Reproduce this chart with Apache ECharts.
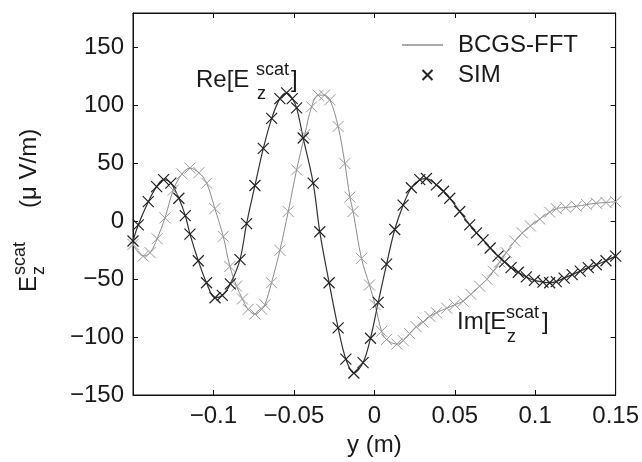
<!DOCTYPE html>
<html>
<head>
<meta charset="utf-8">
<script src="https://cdn.jsdelivr.net/npm/echarts@6/dist/echarts.min.js"></script>
<style>html,body{margin:0;padding:0;background:#fff;}#c{width:642px;height:462px;}</style>
</head>
<body>
<div id="c"></div>
<script>
// Re[E_z^scat] : y (m) and value (uV/m)
var reX = [-0.150,-0.1467,-0.1405,-0.1353,-0.1310,-0.1265,-0.1215,-0.1175,-0.1146,-0.1094,-0.1043,-0.0990,-0.0945,-0.0895,-0.0835,-0.0794,-0.0742,-0.0690,-0.0638,-0.0587,-0.0545,-0.0510,-0.0483,-0.0442,-0.0380,-0.0339,-0.0281,-0.0225,-0.0177,-0.0127,-0.0070,-0.0024,0.0024,0.0076,0.0127,0.0179,0.0230,0.0283,0.0324,0.0386,0.0430,0.0469,0.0531,0.0593,0.0635,0.0676,0.0720,0.0769,0.0810,0.0850,0.0895,0.0945,0.0995,0.1048,0.1090,0.1131,0.1180,0.1230,0.1280,0.1330,0.1380,0.1440,0.1500];
var reY = [-17,-3,17,30,36,33,20,5,-11,-34,-53,-66,-64,-54,-33,-2,31,63,89,106,111,106,98,72,33,-9,-53,-92,-119,-131,-122,-101,-70,-37,-7,14,29,36,37,31.5,26,20,8.5,-3,-10,-16,-23,-30,-35,-40,-44,-48,-51,-52.5,-53,-52,-49,-46,-43,-40,-37.5,-34,-30];
// Im[E_z^scat]
var imX = [-0.150,-0.1436,-0.1394,-0.1350,-0.1301,-0.1250,-0.1195,-0.1146,-0.1090,-0.1042,-0.0991,-0.0939,-0.0898,-0.0856,-0.0820,-0.0784,-0.0742,-0.0700,-0.0680,-0.0639,-0.0587,-0.0535,-0.0483,-0.0432,-0.0390,-0.0349,-0.0310,-0.0276,-0.0225,-0.0183,-0.0152,-0.0132,-0.0080,-0.0030,0.0005,0.0045,0.0076,0.0140,0.0180,0.0220,0.0260,0.0303,0.0345,0.0386,0.0450,0.0500,0.0552,0.0600,0.0655,0.0700,0.0740,0.0780,0.0820,0.0873,0.0920,0.0970,0.1028,0.1090,0.1131,0.1190,0.1256,0.1320,0.1380,0.1440,0.1500];
var imY = [-20,-30,-27,-15,3,27,41,46,42,33,11,-13,-39,-56,-67,-76,-80,-76,-72,-53,-25,8.5,44.5,75,99,109,109,105,82,50,21,8.5,-32,-55,-72,-95,-102,-106,-103,-97,-91,-87,-82,-79,-75,-72,-69,-63,-56,-50,-43,-35,-27,-17,-10,-4,2,8,11,12,13,14.5,15.7,16.3,17];
var xTicks = {min: -0.15, max: 0.15, step: 0.05};
var yTicks = {min: -150, max: 180, step: 50};
var seriesNames = ['BCGS-FFT', 'SIM'];

function pairs(xs, ys){ return xs.map(function(x,i){ return [x, ys[i]]; }); }
function fmt(v){ var s = String(Math.round(v*1000)/1000); return s.replace('-', '\u2212'); }

var FONT = 'Liberation Sans, Arial, Helvetica, sans-serif';
var CROSS = 'path://M0,0L10,10M10,0L0,10';
var LINE_ICON = 'path://M0,0L0,0M0,4.5L41,4.5L41,5.5L0,5.5ZM51,10L51,10';
var chart = echarts.init(document.getElementById('c'), null, {renderer:'canvas'});

var axisCommon = {
  axisLine: {show: true, onZero: false, lineStyle: {color: '#111', width: 1}},
  axisTick: {show: true, inside: true, length: 5, lineStyle: {color: '#111', width: 1}},
  splitLine: {show: false}
};

chart.setOption({
  animation: false,
  backgroundColor: '#fff',
  grid: {left: 133, right: 26, top: 13, bottom: 67, show: true, borderColor: '#111', borderWidth: 1, backgroundColor: 'transparent'},
  legend: {
    show: true, orient: 'vertical', left: 397, top: 28, itemWidth: 51, itemHeight: 10, itemGap: 6,
    textStyle: {fontFamily: FONT, fontSize: 24, color: '#1a1a1a'},
    data: [{name: seriesNames[0], icon: LINE_ICON}, {name: seriesNames[1]}]
  },
  xAxis: [
    Object.assign({type: 'value', position: 'bottom', min: xTicks.min, max: xTicks.max, interval: xTicks.step,
      name: 'y (m)', nameLocation: 'middle', nameGap: 36,
      nameTextStyle: {fontFamily: FONT, fontSize: 24, color: '#1a1a1a'},
      axisLabel: {show: true, showMinLabel: false, margin: 9, fontFamily: FONT, fontSize: 24, color: '#1a1a1a', formatter: fmt}}, axisCommon),
    Object.assign({type: 'value', position: 'top', min: xTicks.min, max: xTicks.max, interval: xTicks.step,
      axisLabel: {show: false}}, axisCommon)
  ],
  yAxis: [
    Object.assign({type: 'value', position: 'left', min: yTicks.min, max: yTicks.max, interval: yTicks.step,
      axisLabel: {show: true, showMaxLabel: false, margin: 9, fontFamily: FONT, fontSize: 24, color: '#1a1a1a', formatter: fmt}}, axisCommon),
    Object.assign({type: 'value', position: 'right', min: yTicks.min, max: yTicks.max, interval: yTicks.step,
      axisLabel: {show: false}}, axisCommon)
  ],
  series: [
    {name: seriesNames[0], type: 'line', data: pairs(reX, reY), smooth: 0.35, symbol: 'none',
      lineStyle: {color: '#333', width: 1.2}, itemStyle: {color: '#555'}, z: 3},
    {name: seriesNames[0], type: 'line', data: pairs(imX, imY), smooth: 0.35, symbol: 'none',
      lineStyle: {color: '#8c8c8c', width: 1}, itemStyle: {color: '#8c8c8c'}, z: 2},
    {name: seriesNames[1], type: 'scatter', data: pairs(reX, reY), symbol: CROSS, symbolSize: 11,
      itemStyle: {color: 'transparent', borderColor: '#222', borderWidth: 1.2, opacity: 1}, z: 4},
    {name: seriesNames[1], type: 'scatter', data: pairs(imX, imY), symbol: CROSS, symbolSize: 11,
      itemStyle: {color: 'transparent', borderColor: '#9a9a9a', borderWidth: 1, opacity: 1}, z: 3}
  ],
  graphic: [
    {type: 'group', x: 29, y: 292, rotation: Math.PI/2, children: [
      {type: 'text', x: 0, y: 0, style: {text: 'E', fontFamily: FONT, fontSize: 24, fill: '#1a1a1a', align: 'left', verticalAlign: 'middle'}},
      {type: 'text', x: 17, y: -9, style: {text: 'scat', fontFamily: FONT, fontSize: 18, fill: '#1a1a1a', align: 'left', verticalAlign: 'middle'}},
      {type: 'text', x: 17, y: 10, style: {text: 'z', fontFamily: FONT, fontSize: 18, fill: '#1a1a1a', align: 'left', verticalAlign: 'middle'}},
      {type: 'text', x: 84, y: 0, style: {text: '(\u03bc V/m)', fontFamily: FONT, fontSize: 24, fill: '#1a1a1a', align: 'left', verticalAlign: 'middle'}}
    ]},
    {type: 'group', x: 196, y: 80, children: [
      {type: 'text', x: 0, y: 0, style: {text: 'Re[E', fontFamily: FONT, fontSize: 24, fill: '#1a1a1a', align: 'left', verticalAlign: 'middle'}},
      {type: 'text', x: 60, y: -10, style: {text: 'scat', fontFamily: FONT, fontSize: 18, fill: '#1a1a1a', align: 'left', verticalAlign: 'middle'}},
      {type: 'text', x: 61, y: 14, style: {text: 'z', fontFamily: FONT, fontSize: 18, fill: '#1a1a1a', align: 'left', verticalAlign: 'middle'}},
      {type: 'text', x: 95, y: 0, style: {text: ']', fontFamily: FONT, fontSize: 24, fill: '#1a1a1a', align: 'left', verticalAlign: 'middle'}}
    ]},
    {type: 'group', x: 457, y: 322, children: [
      {type: 'text', x: 0, y: 0, style: {text: 'Im[E', fontFamily: FONT, fontSize: 24, fill: '#1a1a1a', align: 'left', verticalAlign: 'middle'}},
      {type: 'text', x: 49, y: -9, style: {text: 'scat', fontFamily: FONT, fontSize: 18, fill: '#1a1a1a', align: 'left', verticalAlign: 'middle'}},
      {type: 'text', x: 50, y: 15, style: {text: 'z', fontFamily: FONT, fontSize: 18, fill: '#1a1a1a', align: 'left', verticalAlign: 'middle'}},
      {type: 'text', x: 85, y: 0, style: {text: ']', fontFamily: FONT, fontSize: 24, fill: '#1a1a1a', align: 'left', verticalAlign: 'middle'}}
    ]}
  ]
});
</script>
</body>
</html>
